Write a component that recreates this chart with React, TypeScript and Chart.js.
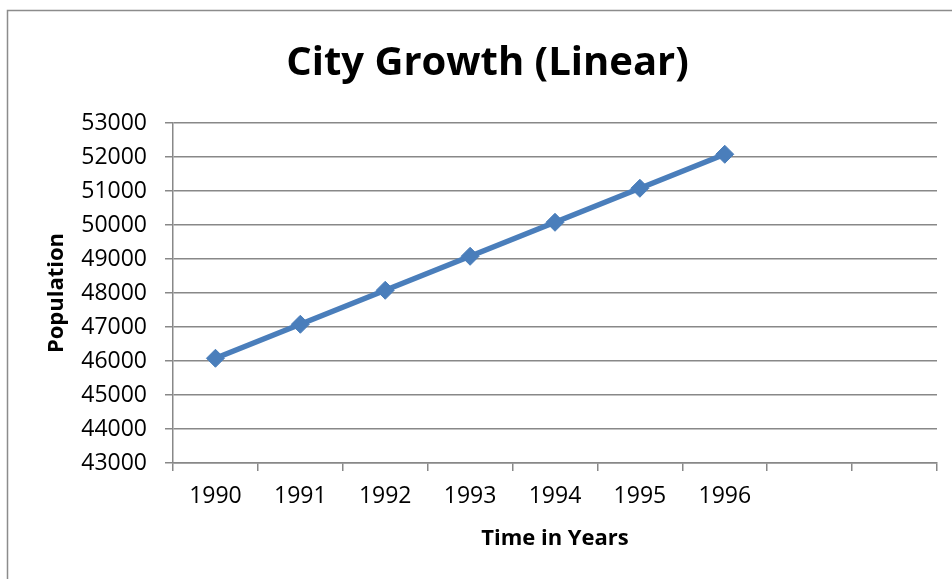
import React, { useEffect, useRef } from "react";
import { Chart, registerables } from "chart.js";

Chart.register(...registerables);

const categories = ["1990", "1991", "1992", "1993", "1994", "1995", "1996", "", ""];
const population = [46080, 47080, 48080, 49080, 50080, 51080, 52080, null, null];
const yMin = 43000;
const yMax = 53000;
const yStep = 1000;

const FONT = "'Open Sans', 'Noto Sans', sans-serif";
const GRID = "#888888";

const borderPlugin = {
  id: "outerBorder",
  beforeDraw(chart: any) {
    const ctx = chart.ctx;
    ctx.save();
    ctx.fillStyle = "#ffffff";
    ctx.fillRect(0, 0, chart.width, chart.height);
    ctx.strokeStyle = "#8c8c8c";
    ctx.lineWidth = 1.5;
    ctx.strokeRect(7.5, 10.5, 1200, 1200);
    ctx.restore();
  },
};

export default function App() {
  const ref = useRef<HTMLCanvasElement>(null);
  useEffect(() => {
    if (!ref.current) return;
    const chart = new Chart(ref.current, {
      type: "line",
      data: {
        labels: categories,
        datasets: [
          {
            data: population,
            borderColor: "#4A7EBB",
            backgroundColor: "#4A7EBB",
            borderWidth: 5.5,
            pointStyle: "rectRot",
            pointRadius: 9,
            pointBorderWidth: 1,
            pointBorderColor: "#4A7EBB",
            pointBackgroundColor: "#4A7EBB",
            tension: 0,
            spanGaps: false,
          },
        ],
      },
      plugins: [borderPlugin],
      options: {
        animation: false,
        responsive: false,
        layout: { padding: { left: 38, right: 15, top: 0, bottom: 0 } },
        plugins: {
          legend: { display: false },
          tooltip: { enabled: false },
          title: {
            display: true,
            text: "City Growth (Linear)",
            color: "#000",
            font: { family: FONT, size: 40, weight: "bold", lineHeight: 1.2 },
            padding: { top: 40, bottom: 35 },
          },
        },
        scales: {
          x: {
            type: "category",
            offset: true,
            grid: {
              offset: true,
              drawOnChartArea: false,
              drawTicks: true,
              tickLength: 8,
              color: GRID,
              lineWidth: 1.5,
            },
            border: { color: GRID, width: 1.5 },
            ticks: {
              color: "#000",
              font: { family: FONT, size: 23 },
              padding: 12,
              maxRotation: 0,
              autoSkip: false,
            },
            title: {
              display: true,
              text: "Time in Years",
              color: "#000",
              font: { family: FONT, size: 22, weight: "bold", lineHeight: 1.2 },
              padding: { top: 0, bottom: 27 },
            },
            afterFit(scale: any) {
              scale.height = 579 - 463;
            },
          },
          y: {
            min: yMin,
            max: yMax,
            grid: {
              color: GRID,
              lineWidth: 1.5,
              tickLength: 8,
              drawTicks: true,
            },
            border: { color: GRID, width: 1.5 },
            ticks: {
              stepSize: yStep,
              color: "#000",
              font: { family: FONT, size: 23 },
              padding: 18,
              callback: (v: any) => String(v),
            },
            title: {
              display: true,
              text: "Population",
              color: "#000",
              font: { family: FONT, size: 22, weight: "bold", lineHeight: 1.2 },
              padding: { top: 6, bottom: 0 },
            },
            afterFit(scale: any) {
              scale.width = 173 - 38;
            },
          },
        },
      },
    });
    return () => chart.destroy();
  }, []);
  return (
    <div style={{ position: "fixed", left: 0, top: 0, width: 952, height: 579 }}>
      <canvas ref={ref} width={952} height={579} style={{ display: "block" }} />
    </div>
  );
}
